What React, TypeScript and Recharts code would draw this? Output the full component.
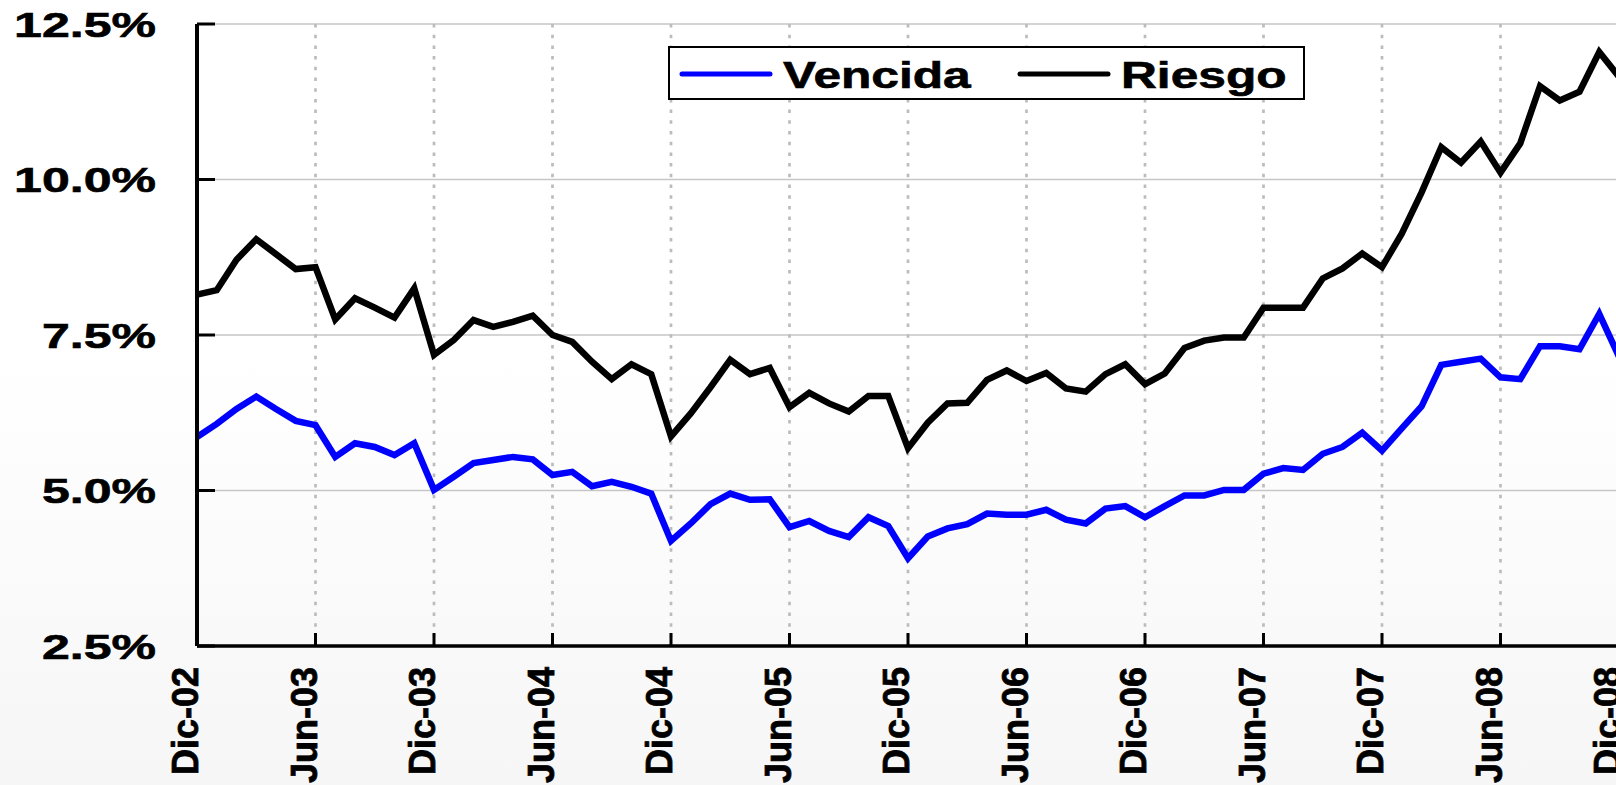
import React from 'react'
import { LineChart, Line, XAxis, YAxis, CartesianGrid, Legend } from 'recharts'

// Indicadores de calidad de cartera, mensual Dic-02 a Dic-08 (%)
const MESES = ['Ene', 'Feb', 'Mar', 'Abr', 'May', 'Jun', 'Jul', 'Ago', 'Sep', 'Oct', 'Nov', 'Dic']
const SERIES = ['Vencida', 'Riesgo']

const vencida = [
  5.86, 6.07, 6.31, 6.51, 6.31, 6.12, 6.05, 5.54, 5.76, 5.70, 5.57, 5.76,
  5.01, 5.22, 5.44, 5.49, 5.54, 5.50, 5.25, 5.30, 5.07, 5.14, 5.06, 4.95,
  4.19, 4.47, 4.78, 4.95, 4.85, 4.86, 4.41, 4.51, 4.35, 4.25, 4.57, 4.43,
  3.91, 4.26, 4.39, 4.46, 4.63, 4.61, 4.61, 4.69, 4.53, 4.47, 4.71, 4.75,
  4.57, 4.75, 4.92, 4.92, 5.01, 5.01, 5.27, 5.36, 5.33, 5.59, 5.70, 5.93,
  5.64, 6.00, 6.35, 7.02, 7.07, 7.12, 6.82, 6.79, 7.32, 7.32, 7.27, 7.84,
  7.15,
]

const riesgo = [
  8.15, 8.22, 8.71, 9.04, 8.80, 8.56, 8.59, 7.75, 8.09, 7.94, 7.78, 8.25,
  7.18, 7.42, 7.74, 7.63, 7.71, 7.81, 7.50, 7.39, 7.07, 6.79, 7.03, 6.87,
  5.87, 6.24, 6.66, 7.10, 6.87, 6.97, 6.34, 6.57, 6.40, 6.27, 6.52, 6.52,
  5.68, 6.09, 6.40, 6.41, 6.78, 6.93, 6.76, 6.89, 6.64, 6.59, 6.87, 7.03,
  6.71, 6.88, 7.29, 7.41, 7.46, 7.46, 7.94, 7.94, 7.94, 8.41, 8.57, 8.81,
  8.59, 9.13, 9.79, 10.52, 10.27, 10.61, 10.11, 10.58, 11.50, 11.27, 11.41, 12.05,
  11.65,
]

const yTicks = [2.5, 5, 7.5, 10, 12.5]

// Dic-02 ... Dic-08
const periodos = vencida.map((_, i) => {
  const m = (11 + i) % 12
  const a = 2 + Math.floor((11 + i) / 12)
  return `${MESES[m]}-${String(a).padStart(2, '0')}`
})

const data = periodos.map((mes, i) => ({ mes, vencida: vencida[i], riesgo: riesgo[i] }))

const FONT = '"Liberation Sans", Arial, sans-serif'

function YTick(props: any) {
  const { x, y, payload } = props
  return (
    <g>
      <line x1={x} x2={x + 18} y1={y} y2={y} stroke="#000" strokeWidth={3} />
      <text
        transform={`translate(${x - 41},${y + 12.5}) scale(1.43,1)`}
        textAnchor="end"
        fontFamily={FONT}
        fontWeight="bold"
        fontSize={35}
        fill="#000"
        stroke="#000"
        strokeWidth={0.6}
      >
        {Number(payload.value).toFixed(1)}%
      </text>
    </g>
  )
}

function XTick(props: any) {
  const { x, y, payload } = props
  return (
    <g>
      <line x1={x} x2={x} y1={y} y2={y - 13} stroke="#000" strokeWidth={3} />
      <text
        transform={`translate(${x + 1},${y + 21}) rotate(-90)`}
        textAnchor="end"
        fontFamily={FONT}
        fontWeight="bold"
        fontSize={36}
        fill="#000"
        stroke="#000"
        strokeWidth={0.8}
      >
        {payload.value}
      </text>
    </g>
  )
}

function LegendBox({ payload }: any) {
  const starts = [14, 352]
  const items = [...(payload || [])].sort((a: any, b: any) => SERIES.indexOf(a.value) - SERIES.indexOf(b.value))
  return (
    <svg width={637} height={54}>
      <rect x={1} y={1} width={635} height={52} fill="#fff" stroke="#000" strokeWidth={2} />
      {items.map((e: any, k: number) => {
        const x0 = starts[k]
        return (
          <g key={e.value}>
            <line x1={x0} x2={x0 + 88} y1={28} y2={28} stroke={e.color} strokeWidth={5} strokeLinecap="round" />
            <text
              transform={`translate(${x0 + 101},42) scale(1.38,1)`}
              fontFamily={FONT}
              fontWeight="bold"
              fontSize={36}
              fill="#000"
              stroke="#000"
              strokeWidth={0.6}
            >
              {e.value}
            </text>
          </g>
        )
      })}
    </svg>
  )
}

export default function App() {
  return (
    <div
      style={{
        position: 'fixed',
        left: 0,
        top: 0,
        width: 1616,
        height: 785,
        overflow: 'hidden',
        background: 'linear-gradient(#ffffff 0%, #ffffff 45%, #f6f6f6 100%)',
      }}
    >
      <LineChart width={1640} height={785} data={data} margin={{ top: 24, right: 21, left: 0, bottom: 0 }}>
        <CartesianGrid vertical={false} stroke="#c6c6c6" strokeWidth={1.5} />
        <CartesianGrid horizontal={false} stroke="#bcbcbc" strokeWidth={2.7} strokeDasharray="3.5 7.2" />
        <XAxis
          dataKey="mes"
          interval={5}
          height={139}
          tickSize={0}
          tickMargin={0}
          tickLine={false}
          axisLine={{ stroke: '#000', strokeWidth: 3.5 }}
          tick={<XTick />}
        />
        <YAxis
          type="number"
          domain={[2.5, 12.5]}
          ticks={yTicks}
          width={197}
          tickSize={0}
          tickMargin={0}
          tickLine={false}
          axisLine={{ stroke: '#000', strokeWidth: 4 }}
          tick={<YTick />}
        />
        <Legend
          layout="horizontal"
          verticalAlign="middle"
          content={<LegendBox />}
          wrapperStyle={{ position: 'absolute', left: 668, top: 46, width: 637, height: 54 }}
        />
        <Line
          type="linear"
          dataKey="vencida"
          name="Vencida"
          stroke="#0000ff"
          strokeWidth={6.5}
          dot={false}
          isAnimationActive={false}
        />
        <Line
          type="linear"
          dataKey="riesgo"
          name="Riesgo"
          stroke="#000000"
          strokeWidth={6.5}
          dot={false}
          isAnimationActive={false}
        />
      </LineChart>
    </div>
  )
}
